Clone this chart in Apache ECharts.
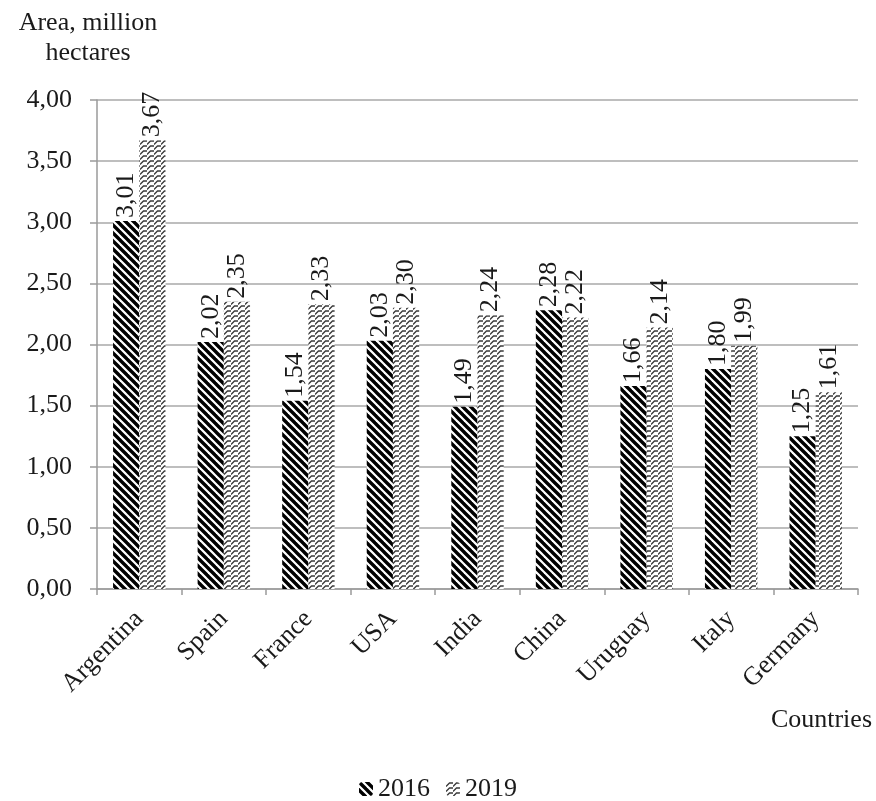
<!DOCTYPE html>
<html>
<head>
<meta charset="utf-8">
<script src="https://cdn.jsdelivr.net/npm/echarts@6/dist/echarts.min.js"></script>
<style>
html,body{margin:0;padding:0;background:#fff;}
#c{width:876px;height:801px;}
</style>
</head>
<body>
<div id="c"></div>
<script>
const categories = ['Argentina','Spain','France','USA','India','China','Uruguay','Italy','Germany'];
const seriesNames = ['2016','2019'];
const values2016 = [3.01, 2.02, 1.54, 2.03, 1.49, 2.28, 1.66, 1.80, 1.25];
const values2019 = [3.67, 2.35, 2.33, 2.30, 2.24, 2.22, 2.14, 1.99, 1.61];
const yTicks = {min: 0, max: 4, interval: 0.5};

function stripePattern() {
  const s = 8;
  const c = document.createElement('canvas');
  c.width = s; c.height = s;
  const g = c.getContext('2d');
  g.fillStyle = '#fff'; g.fillRect(0,0,s,s);
  g.strokeStyle = '#000'; g.lineWidth = 3.4; g.lineCap = 'square';
  for (const o of [-s, 0, s]) {
    g.beginPath(); g.moveTo(o - 2, -2); g.lineTo(o + s + 2, s + 2); g.stroke();
  }
  return c;
}
function zigPattern() {
  const w = 7, h = 5;
  const c = document.createElement('canvas');
  c.width = w; c.height = h;
  const g = c.getContext('2d');
  g.fillStyle = '#fff'; g.fillRect(0,0,w,h);
  g.strokeStyle = '#3a3a3a'; g.lineWidth = 1.3;
  g.beginPath();
  g.moveTo(0, 4.5); g.lineTo(3.5, 1); g.lineTo(7, 1);
  g.stroke();
  g.beginPath();
  g.moveTo(-3.5, 1); g.lineTo(0, 1);
  g.stroke();
  return c;
}
const pat1 = {image: stripePattern(), repeat: 'repeat'};
const pat2 = {image: zigPattern(), repeat: 'repeat'};

const font = 'Liberation Serif, Times New Roman, serif';
const txt = '#1a1a1a';
const fs = 26;

const labelCfg = {
  show: true, position: 'top', rotate: 90, align: 'left', verticalAlign: 'middle',
  distance: 3, fontFamily: font, fontSize: fs, color: txt,
  formatter: p => p.value.toFixed(2).replace('.', ',')
};

const chart = echarts.init(document.getElementById('c'));
chart.setOption({
  animation: false,
  backgroundColor: '#fff',
  grid: {left: 97, right: 18, top: 100, bottom: 212, containLabel: false},
  legend: {
    top: 771, left: 'center', itemWidth: 14, itemHeight: 14, itemGap: 16,
    textStyle: {fontFamily: font, fontSize: fs, color: txt},
    data: [
      {name: seriesNames[0], itemStyle: {color: pat1}},
      {name: seriesNames[1], itemStyle: {color: pat2}}
    ]
  },
  xAxis: {
    type: 'category', data: categories,
    name: 'Countries', nameLocation: 'end', nameGap: 14,
    nameTextStyle: {fontFamily: font, fontSize: fs, color: txt, align: 'right', verticalAlign: 'top', padding: [118, 0, 0, 0]},
    axisLine: {lineStyle: {color: '#9a9a9a', width: 1.5}},
    axisTick: {show: true, length: 6, lineStyle: {color: '#9a9a9a', width: 1.5}},
    axisLabel: {rotate: 45, interval: 0, fontFamily: font, fontSize: fs, color: txt, margin: 26}
  },
  yAxis: {
    type: 'value', min: yTicks.min, max: yTicks.max, interval: yTicks.interval,
    name: 'Area, million\nhectares', nameLocation: 'end', nameGap: 32,
    nameTextStyle: {fontFamily: font, fontSize: fs, color: txt, align: 'center', verticalAlign: 'bottom', lineHeight: 30, padding: [0, 18, 0, 0]},
    axisLine: {show: true, lineStyle: {color: '#9a9a9a', width: 1.5}},
    axisTick: {show: true, length: 7, lineStyle: {color: '#9a9a9a', width: 1.5}},
    splitLine: {lineStyle: {color: '#a8a8a8', width: 1.5}},
    axisLabel: {fontFamily: font, fontSize: fs, color: txt, margin: 25,
      formatter: v => v.toFixed(2).replace('.', ',')}
  },
  series: [
    {name: seriesNames[0], type: 'bar', data: values2016, barGap: '0%', barCategoryGap: '38%',
     itemStyle: {color: pat1}, label: labelCfg},
    {name: seriesNames[1], type: 'bar', data: values2019, barGap: '0%', barCategoryGap: '38%',
     itemStyle: {color: pat2}, label: labelCfg}
  ]
});
</script>
</body>
</html>
